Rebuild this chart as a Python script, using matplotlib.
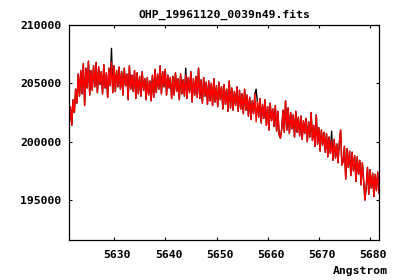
import matplotlib
matplotlib.use("Agg")
import matplotlib.pyplot as plt
import matplotlib.transforms as mtransforms
import numpy as np

title = "OHP_19961120_0039n49.fits"
xlabel = "Angstrom"
x_ticks = [5630, 5640, 5650, 5660, 5670, 5680]
y_ticks = [195000, 200000, 205000, 210000]

wave_start = 5621.2
wave_step = 0.25

red_flux = [
    201500, 203000, 201400, 203600, 202500, 204500, 203300, 205800, 203900, 206100,
    204100, 206700, 203100, 206300, 204600, 206900, 204000, 206100, 204400, 206500,
    204700, 206800, 204200, 206400, 204900, 206000, 204100, 206600, 204600, 205900,
    203800, 206300, 204800, 206800, 204200, 206500, 204300, 206100, 204700, 206400,
    204500, 206000, 204000, 206300, 204800, 205800, 203600, 206500, 204500, 205700,
    204300, 206100, 203700, 205900, 204100, 205600, 203900, 206000, 204400, 205400,
    203600, 205500, 204000, 205200, 203500, 205700, 203800, 206200, 204200, 205800,
    204500, 206500, 204100, 206000, 204700, 206200, 204000, 205700, 204600, 205500,
    203700, 205600, 204000, 205900, 204300, 205400, 203600, 205800, 204100, 205300,
    203900, 205700, 203700, 205500, 204200, 206000, 203400, 205400, 204000, 205600,
    203800, 206300, 203700, 205300, 203300, 205500, 203900, 205100, 203200, 205200,
    203500, 205000, 203100, 205400, 203400, 204800, 203000, 205100, 203600, 204700,
    202800, 204900, 203200, 204500, 202600, 205200, 202900, 204600, 202700, 204300,
    203100, 204700, 202600, 204400, 202800, 204100, 202400, 204500, 202700, 204000,
    202200, 203800, 201900, 203500, 202400, 204100, 201700, 203400, 202100, 203700,
    201600, 203200, 202000, 203600, 201400, 203000, 201000, 203300, 201800, 202800,
    201300, 203100, 200900, 202600, 200600, 200300, 201100, 202700, 200800, 203500,
    201000, 202900, 200700, 202500, 201100, 202300, 200400, 202600, 200800, 202100,
    200500, 202200, 200200, 201800, 200700, 202000, 200000, 201700, 200400, 202500,
    200100, 201400, 199600, 202300, 199800, 201200, 199200, 201000, 199700, 200800,
    199100, 200700, 198700, 200400, 199000, 200100, 198400, 200200, 198600, 199800,
    198200, 199900, 201000, 198000, 198300, 199600, 196800, 199400, 197800, 199200,
    197100, 199100, 197500, 198800, 196600, 198700, 197200, 198400, 196300, 198200,
    196700, 195000, 196100, 197800, 195500, 197600, 196000, 197300, 195300, 197200,
    195800, 197400, 195600,
]

# black trace: identical to the red one except where it peeks out
black_overrides = {33: 208000, 91: 206300, 146: 204500, 205: 200900}
black_flux = list(red_flux)
for k, v in black_overrides.items():
    black_flux[k] = v

wave = wave_start + wave_step * np.arange(len(red_flux))

fig = plt.figure(figsize=(4.0, 2.8), dpi=100)
ax = fig.add_axes([69.3 / 400, 1 - 240.3 / 280, 310 / 400, 215.3 / 280])

ax.plot(wave, black_flux, color="black", lw=1.0)
ax.plot(wave, red_flux, color="#ff0000", lw=1.0)

ax.set_xlim(5621.21, 5681.76)
ax.set_ylim(191550, 210000)
ax.set_xticks(x_ticks)
ax.set_yticks(y_ticks)
ax.set_xticklabels([str(t) for t in x_ticks])
ax.set_yticklabels([str(t) for t in y_ticks])

font = dict(family="DejaVu Sans Mono", weight="bold", size=8.2)
for lab in ax.get_xticklabels() + ax.get_yticklabels():
    lab.set_fontfamily(font["family"])
    lab.set_fontweight(font["weight"])
    lab.set_fontsize(font["size"])

ax.tick_params(direction="in", length=2.5, width=0.8, top=True, right=True,
               colors="black")
ax.tick_params(axis="y", pad=5.8)
ax.tick_params(axis="x", pad=7)
offset = mtransforms.ScaledTranslation(3 / 100, 0, fig.dpi_scale_trans)
for lab in ax.get_xticklabels():
    lab.set_transform(lab.get_transform() + offset)

for s in ax.spines.values():
    s.set_linewidth(0.9)
    s.set_color("black")

fig.text(224.3 / 400, 1 - 14.7 / 280, title, ha="center", va="center", **font)
fig.text(388.3 / 400, 1 - 270.7 / 280, xlabel, ha="right", va="center", **font)

fig.savefig("out.png", dpi=100, facecolor="white")
